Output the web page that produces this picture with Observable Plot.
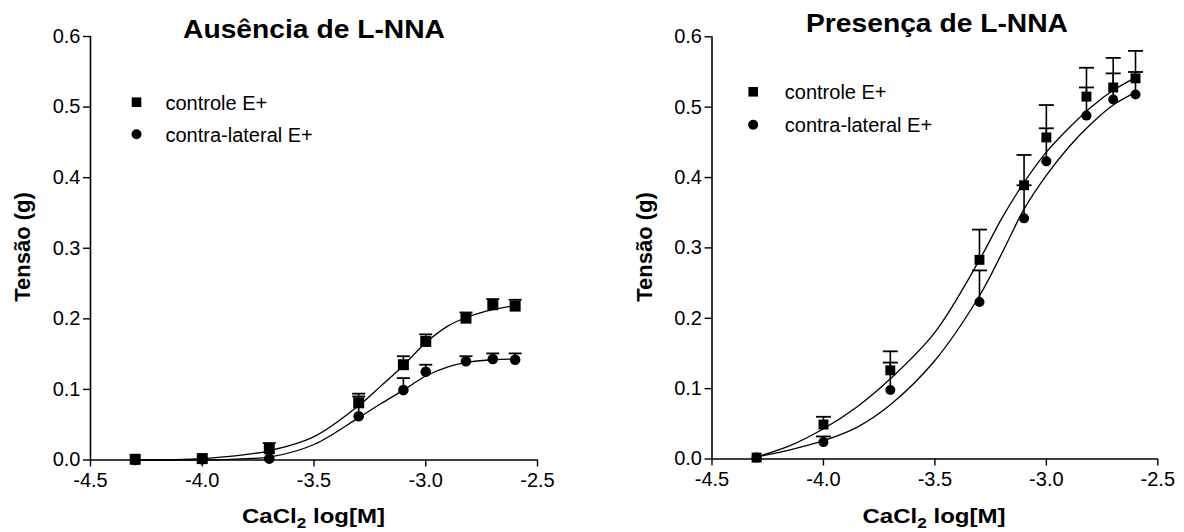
<!DOCTYPE html>
<html><head><meta charset="utf-8">
<script src="https://cdn.jsdelivr.net/npm/d3@7"></script>
<script src="https://cdn.jsdelivr.net/npm/@observablehq/plot@0.6"></script>
<style>
html,body{margin:0;padding:0;background:#fff;}
#wrap{position:relative;width:1184px;height:532px;display:flex;}
#wrap svg{display:block;flex:none;}
</style></head><body><div id="wrap"></div>
<script>
// ---- data ----
const logCa = [-4.3, -4.0, -3.7, -3.3, -3.1, -3.0, -2.82, -2.7, -2.6];
const xTicks = [-4.5, -4.0, -3.5, -3.0, -2.5];
const yTicks = [0, 0.1, 0.2, 0.3, 0.4, 0.5, 0.6];
const seriesNames = ["controle E+", "contra-lateral E+"];

// Ausência de L-NNA
const ausControle    = [0.001, 0.002, 0.016, 0.081, 0.135, 0.168, 0.201, 0.220, 0.218];
const ausControleErr = [0, 0, 0.008, 0.013, 0.012, 0.010, 0.008, 0.008, 0.009];
const ausContra      = [0.000, 0.001, 0.002, 0.062, 0.099, 0.125, 0.140, 0.143, 0.142];
const ausContraErr   = [0, 0, 0, 0.028, 0.017, 0.010, 0.007, 0.008, 0.009];
const ausCurveX        = [-4.3, -4.0, -3.8, -3.7, -3.5, -3.3, -3.2, -3.1, -3.0, -2.9, -2.8, -2.7, -2.6];
const ausCurveControle = [0.000, 0.002, 0.008, 0.013, 0.033, 0.077, 0.105, 0.134, 0.166, 0.190, 0.204, 0.213, 0.219];
const ausCurveContra   = [0.000, 0.000, 0.002, 0.004, 0.022, 0.060, 0.080, 0.099, 0.119, 0.132, 0.139, 0.142, 0.143];

// Presença de L-NNA
const preControle    = [0.002, 0.049, 0.126, 0.283, 0.389, 0.457, 0.515, 0.528, 0.541];
const preControleErr = [0, 0.011, 0.027, 0.043, 0.043, 0.046, 0.041, 0.042, 0.039];
const preContra      = [0.002, 0.024, 0.098, 0.223, 0.342, 0.423, 0.488, 0.511, 0.518];
const preContraErr   = [0, 0.008, 0.039, 0.045, 0.047, 0.047, 0.040, 0.037, 0.032];
const preCurveX        = [-4.3, -4.15, -4.0, -3.85, -3.7, -3.5, -3.3, -3.2, -3.1, -3.0, -2.9, -2.8, -2.7, -2.6];
const preCurveControle = [0.003, 0.019, 0.043, 0.074, 0.114, 0.180, 0.283, 0.342, 0.393, 0.436, 0.470, 0.500, 0.524, 0.542];
const preCurveContra   = [0.003, 0.013, 0.026, 0.045, 0.077, 0.140, 0.232, 0.292, 0.355, 0.403, 0.443, 0.476, 0.503, 0.521];

const titles = ["Ausência de L-NNA", "Presença de L-NNA"];
const yLabel = "Tensão (g)";

// ---- drawing ----
const FONT = "'Liberation Sans', Arial, Helvetica, sans-serif";
const capSymbol = {draw(ctx, size) { const r = Math.sqrt(size / Math.PI); ctx.moveTo(-r, 0); ctx.lineTo(r, 0); }};

function build(vals, errs, cx, cys) {
  const pts = [], curves = [];
  vals.forEach((arr, s) => arr.forEach((v, i) => pts.push({x: logCa[i], y: v, e: errs[s][i], s})));
  cys.forEach((arr, s) => arr.forEach((v, i) => curves.push({x: cx[i], y: v, s})));
  return {pts, curves};
}

function panel(o) {
  const {pts, curves} = build(o.vals, o.errs, o.cx, o.cys);
  const errPts = pts.filter(d => d.e > 0);
  const fmt = d => d.toFixed(1);
  const svg = Plot.plot({
    width: 592, height: 532,
    marginLeft: o.ml, marginRight: o.mr, marginTop: o.mt, marginBottom: o.mb,
    style: {fontFamily: FONT, fontSize: "20px", color: "#000", background: "transparent", overflow: "visible"},
    x: {domain: [-4.5, -2.5], axis: null},
    y: {domain: [0, 0.6], axis: null},
    marks: [
      Plot.axisX(xTicks, {tickFormat: fmt, tickSize: 7, tickPadding: 6, strokeWidth: 1.4, label: null, fontSize: 20}),
      Plot.axisY(yTicks, {tickFormat: fmt, tickSize: 7, tickPadding: 3, strokeWidth: 1.4, label: null, fontSize: 20}),
      Plot.ruleY([0], {strokeWidth: 1.6}),
      Plot.ruleX([-4.5], {strokeWidth: 1.6}),
      Plot.line(curves, {x: "x", y: "y", z: "s", curve: "catmull-rom", stroke: "black", strokeWidth: 1.3}),
      Plot.ruleX(errPts, {x: "x", y1: "y", y2: d => d.y + d.e, stroke: "black", strokeWidth: 1.6}),
      Plot.dot(errPts, {x: "x", y: d => d.y + d.e, symbol: capSymbol, r: o.capR, stroke: "black", strokeWidth: 1.8, fill: "none"}),
      Plot.dot(pts.filter(d => d.s === 0), {x: "x", y: "y", symbol: "square", r: o.sqR, fill: "black", stroke: "none"}),
      Plot.dot(pts.filter(d => d.s === 1), {x: "x", y: "y", symbol: "circle", r: o.ciR, fill: "black", stroke: "none"}),
      // legend
      Plot.dot({length: 1}, {frameAnchor: "top-left", dx: o.lgx, dy: o.lgy, symbol: "square", r: 5.4, fill: "black"}),
      Plot.dot({length: 1}, {frameAnchor: "top-left", dx: o.lgx, dy: o.lgy + o.lgs, symbol: "circle", r: 5, fill: "black"}),
      Plot.text([seriesNames[0]], {frameAnchor: "top-left", dx: o.lgx + o.lgt, dy: o.lgy + 1, text: d => d, textAnchor: "start", lineAnchor: "middle", fontSize: 20}),
      Plot.text([seriesNames[1]], {frameAnchor: "top-left", dx: o.lgx + o.lgt, dy: o.lgy + o.lgs + 1, text: d => d, textAnchor: "start", lineAnchor: "middle", fontSize: 20})
    ]
  });

  const s = d3.select(svg);
  s.append("text").attr("x", o.tx).attr("y", o.ty).attr("text-anchor", "middle")
    .attr("font-family", FONT).attr("font-weight", "bold").attr("font-size", 25)
    .attr("textLength", 262).attr("lengthAdjust", "spacingAndGlyphs").text(o.title);
  const xl = s.append("text").attr("x", o.xlx).attr("y", 523).attr("text-anchor", "middle")
    .attr("font-family", FONT).attr("font-weight", "bold").attr("font-size", 21)
    .attr("textLength", 143).attr("lengthAdjust", "spacingAndGlyphs");
  xl.append("tspan").text("CaCl");
  xl.append("tspan").attr("font-size", 15).attr("dy", 5).text("2");
  xl.append("tspan").attr("dy", -5).text(" log[M]");
  s.append("text").attr("transform", `translate(${o.ylx},${o.yly}) rotate(-90)`).attr("text-anchor", "middle")
    .attr("font-family", FONT).attr("font-weight", "bold").attr("font-size", 22).text(yLabel);
  return svg;
}

const wrap = document.getElementById("wrap");
wrap.appendChild(panel({
  vals: [ausControle, ausContra], errs: [ausControleErr, ausContraErr],
  cx: ausCurveX, cys: [ausCurveControle, ausCurveContra],
  ml: 90, mr: 55, mt: 36, mb: 72.5, capR: 6.5, sqR: 6.2, ciR: 5.3,
  lgx: 46, lgy: 65.7, lgs: 32, lgt: 29, title: titles[0], tx: 314, ty: 38, xlx: 313.5, ylx: 30, yly: 247
}));
wrap.appendChild(panel({
  vals: [preControle, preContra], errs: [preControleErr, preContraErr],
  cx: preCurveX, cys: [preCurveControle, preCurveContra],
  ml: 119.5, mr: 26.7, mt: 36.3, mb: 73.5, capR: 7.5, sqR: 5.6, ciR: 5,
  lgx: 41.2, lgy: 55, lgs: 33, lgt: 31.6, title: titles[1], tx: 345, ty: 32, xlx: 342, ylx: 60, yly: 247
}));
</script>
</body></html>
